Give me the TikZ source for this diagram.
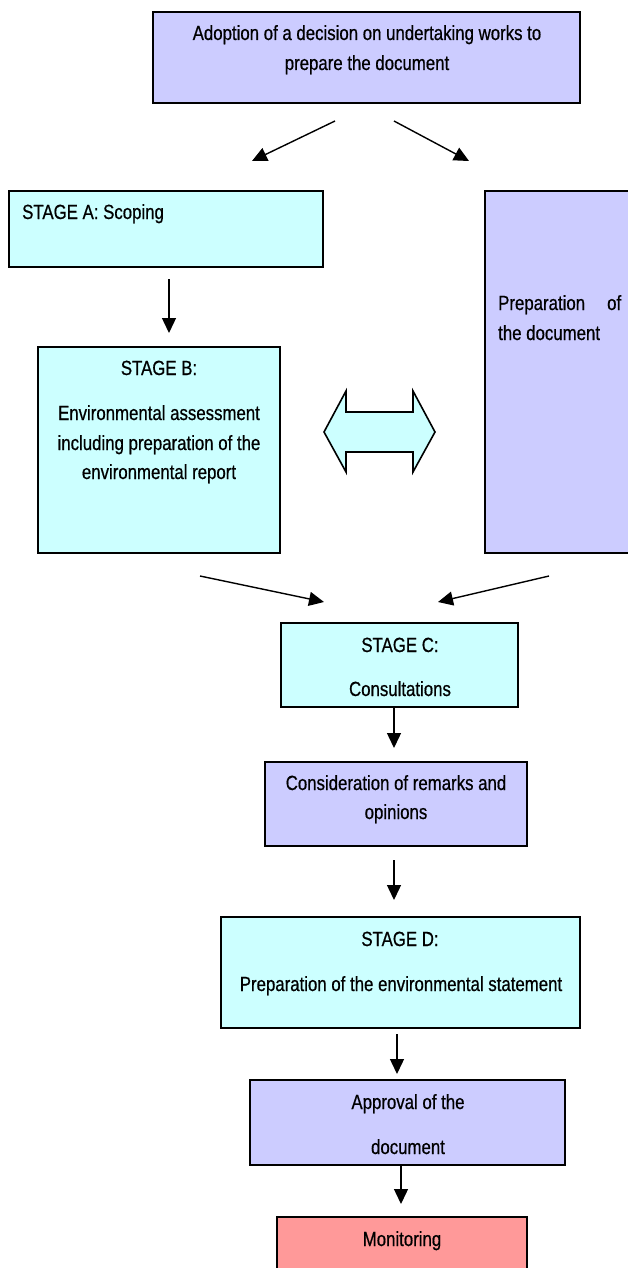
\documentclass[tikz,border=0pt]{standalone}
\usepackage{fontspec}
\setmainfont{Liberation Sans}[FakeStretch=0.82,FakeBold=0.6]
\usetikzlibrary{arrows.meta}
\definecolor{lav}{HTML}{CCCCFF}
\definecolor{aqua}{HTML}{CCFFFF}
\definecolor{rose}{HTML}{FF9999}
\tikzset{
  box/.style={draw=black, line width=1.6pt, inner sep=0pt, outer sep=0pt, anchor=north west},
  lbox/.style={box, fill=lav},
  cbox/.style={box, fill=aqua},
  pbox/.style={box, fill=rose},
  txt/.style={anchor=base, inner sep=0pt, font=\fontsize{20.5}{24}\selectfont},
  ltxt/.style={txt, anchor=base west},
  flow/.style={line width=1.4pt, -{Triangle[length=15pt,width=14pt]}},
}
\begin{document}
\begin{tikzpicture}[x=1pt, y=-1pt]
\clip (0,0) rectangle (628,1268);
\fill[white] (0,0) rectangle (628,1268);

% boxes
\node[lbox, minimum width=427pt, minimum height=91pt] (top) at (153,12) {};
\node[cbox, minimum width=314pt, minimum height=76pt] (stA) at (9,191) {};
\node[lbox, minimum width=175pt, minimum height=362pt] (prep) at (485,191) {};
\node[cbox, minimum width=242pt, minimum height=206pt] (stB) at (38,347) {};
\node[cbox, minimum width=237pt, minimum height=84pt] (stC) at (281,623) {};
\node[lbox, minimum width=262pt, minimum height=84pt] (cons) at (265,762) {};
\node[cbox, minimum width=359pt, minimum height=111pt] (stD) at (221,917) {};
\node[lbox, minimum width=315pt, minimum height=85pt] (appr) at (250,1080) {};
\node[pbox, minimum width=250pt, minimum height=73pt] (mon) at (277,1217) {};

% texts
\node[txt] (t1) at (367,40) {Adoption of a decision on undertaking works to};
\node[txt] (t2) at (367,70) {prepare the document};
\node[ltxt] (ta) at (22,219) {STAGE A: Scoping};
\node[ltxt] (tp1) at (498,310) {\makebox[123pt][l]{Preparation\hfill of}};
\node[ltxt] (tp2) at (498,340) {the document};
\node[txt] (tb1) at (159,375) {STAGE B:};
\node[txt] (tb2) at (159,420) {Environmental assessment};
\node[txt] (tb3) at (159,450) {including preparation of the};
\node[txt] (tb4) at (159,479) {environmental report};
\node[txt] (tc1) at (400,652) {STAGE C:};
\node[txt] (tc2) at (400,696) {Consultations};
\node[txt] (tr1) at (396,790) {Consideration of remarks and};
\node[txt] (tr2) at (396,819) {opinions};
\node[txt] (td1) at (400,946) {STAGE D:};
\node[txt] (td2) at (401,991) {Preparation of the environmental statement};
\node[txt] (ta1) at (408,1109) {Approval of the};
\node[txt] (ta2) at (408,1154) {document};
\node[txt] (tm) at (402,1246) {Monitoring};

% double-headed block arrow between stage B and the document
\draw[line width=1.6pt, fill=aqua, line join=miter]
  (324,432) -- (346,391) -- (346,412) -- (413,412) -- (413,391) -- (435,432)
  -- (413,472) -- (413,452) -- (346,452) -- (346,472) -- cycle;

% arrow ends
\coordinate (a1s) at (335,121); \coordinate (a1e) at (252,161);
\coordinate (a2s) at (394,121); \coordinate (a2e) at (469,161);
\coordinate (a3s) at (169,279); \coordinate (a3e) at (169,333);
\coordinate (a4s) at (200,576); \coordinate (a4e) at (324,602);
\coordinate (a5s) at (549,576); \coordinate (a5e) at (438,602);
\coordinate (a6s) at (394,708); \coordinate (a6e) at (394,748);
\coordinate (a7s) at (394,860); \coordinate (a7e) at (394,900);
\coordinate (a8s) at (397,1034); \coordinate (a8e) at (397,1074);
\coordinate (a9s) at (401,1166); \coordinate (a9e) at (401,1204);

\foreach \i in {1,...,9} \draw[flow] (a\i s) -- (a\i e);
\end{tikzpicture}
\end{document}
